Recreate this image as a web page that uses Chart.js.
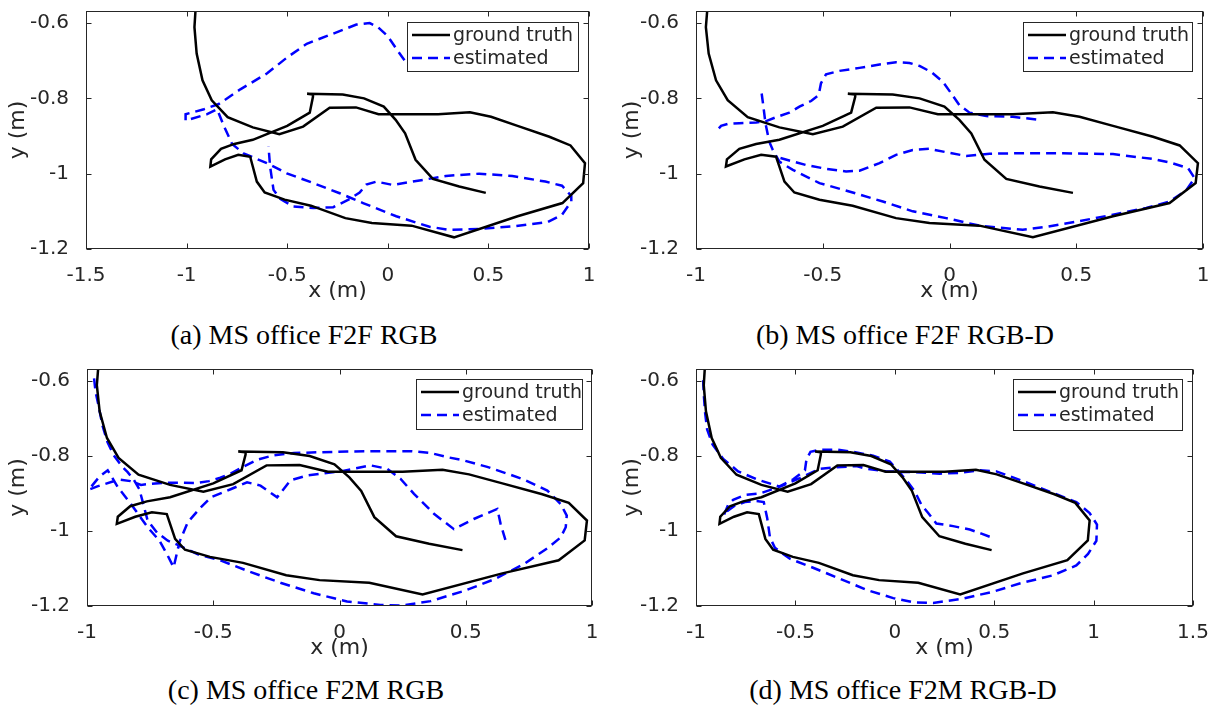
<!DOCTYPE html>
<html>
<head>
<meta charset="utf-8">
<script src="https://cdn.jsdelivr.net/npm/chart.js@4.4.0/dist/chart.umd.min.js"></script>
<style>
    body { margin: 0; background: #fff; width: 1218px; height: 708px; position: relative; overflow: hidden; }
    .panel { position: absolute; width: 609px; height: 310px; }
    .cap { position: absolute; font-family: "Liberation Serif", "Times New Roman", serif; font-size: 28px; line-height: 1;
           white-space: nowrap; transform: translateX(-50%); color: #000; }
</style>
</head>
<body>
<div class="panel" style="left:0;top:0"><canvas id="chartA"></canvas></div>
<div class="panel" style="left:609px;top:0"><canvas id="chartB"></canvas></div>
<div class="panel" style="left:0;top:358px"><canvas id="chartC"></canvas></div>
<div class="panel" style="left:609px;top:358px"><canvas id="chartD"></canvas></div>
<div class="cap" style="left:304px;top:321px">(a) MS office F2F RGB</div>
<div class="cap" style="left:905px;top:321px">(b) MS office F2F RGB-D</div>
<div class="cap" style="left:306px;top:676px">(c) MS office F2M RGB</div>
<div class="cap" style="left:903px;top:676px">(d) MS office F2M RGB-D</div>
<script>
// ground truth trajectory (same in all four plots)
const gtX = [-0.955, -0.961, -0.950, -0.921, -0.875, -0.796, -0.671, -0.539, -0.421, -0.289, -0.158, -0.046, 0.250, 0.408, 0.513, 0.645, 0.803, 0.908, 0.980, 0.971, 0.868, 0.645, 0.329, 0.118, -0.079, -0.211, -0.382, -0.513, -0.612, -0.651, -0.671, -0.684, -0.743, -0.809, -0.882, -0.878, -0.829, -0.763, -0.671, -0.500, -0.388, -0.372, -0.372, -0.401, -0.224, -0.118, -0.020, 0.039, 0.086, 0.138, 0.224, 0.355, 0.487];
const gtY = [-0.560, -0.611, -0.681, -0.752, -0.805, -0.850, -0.877, -0.895, -0.875, -0.825, -0.824, -0.842, -0.842, -0.837, -0.849, -0.873, -0.902, -0.925, -0.972, -1.025, -1.078, -1.113, -1.169, -1.138, -1.131, -1.118, -1.085, -1.069, -1.050, -1.021, -0.981, -0.955, -0.950, -0.962, -0.981, -0.962, -0.934, -0.921, -0.910, -0.873, -0.838, -0.796, -0.790, -0.788, -0.790, -0.800, -0.822, -0.857, -0.893, -0.963, -1.014, -1.034, -1.051];

// (a) F2F RGB
const estAX = [0.083, 0.042, 0.000, -0.049, -0.090, -0.156, -0.271, -0.403, -0.502, -0.601, -0.733, -0.840, -0.914, -1.005, -1.005, -0.898, -0.848, -0.815, -0.774, -0.717, -0.601, -0.502, -0.370, -0.239, -0.123, 0.042, 0.207, 0.305, 0.454, 0.619, 0.792, 0.866, 0.912, 0.912, 0.866, 0.783, 0.619, 0.454, 0.289, 0.124, 0.025, -0.057, -0.107, -0.140, -0.189, -0.271, -0.370, -0.469, -0.535, -0.568, -0.585, -0.593];
const estAY = [-0.699, -0.668, -0.635, -0.611, -0.600, -0.604, -0.628, -0.655, -0.692, -0.734, -0.776, -0.815, -0.829, -0.842, -0.859, -0.842, -0.829, -0.873, -0.921, -0.946, -0.972, -0.999, -1.025, -1.052, -1.078, -1.113, -1.141, -1.149, -1.147, -1.140, -1.129, -1.109, -1.074, -1.059, -1.032, -1.021, -1.006, -1.000, -1.006, -1.021, -1.030, -1.021, -1.029, -1.050, -1.067, -1.089, -1.091, -1.087, -1.067, -1.043, -0.981, -0.928];

// (b) F2F RGB-D  (null = break in the line)
const estBX = [0.342, 0.250, 0.145, 0.079, 0.039, 0.007, -0.026, -0.072, -0.118, -0.158, -0.211, -0.276, -0.355, -0.434, -0.487, -0.507, -0.516, -0.546, -0.592, -0.632, -0.684, -0.726, -0.763, -0.829, -0.875, -0.901, -0.921, null,
    -0.741, -0.734, -0.726, -0.711, -0.697, -0.671, -0.618, -0.513, -0.382, -0.263, -0.145, -0.013, 0.118, 0.289, 0.382, 0.513, 0.645, 0.776, 0.868, 0.934, 0.967, 0.941, 0.868, 0.803, 0.645, 0.447, 0.250, 0.158, 0.066, -0.013, -0.079, -0.145, -0.211, -0.276, -0.355, -0.408, -0.487, -0.566, -0.632, -0.678];
const estBY = [-0.856, -0.849, -0.847, -0.838, -0.818, -0.787, -0.756, -0.730, -0.714, -0.706, -0.704, -0.710, -0.719, -0.727, -0.736, -0.760, -0.791, -0.807, -0.822, -0.838, -0.850, -0.861, -0.864, -0.866, -0.868, -0.873, -0.888, null,
    -0.787, -0.822, -0.866, -0.915, -0.937, -0.968, -0.990, -1.025, -1.050, -1.074, -1.100, -1.118, -1.138, -1.149, -1.141, -1.126, -1.109, -1.091, -1.074, -1.044, -1.012, -0.985, -0.970, -0.961, -0.948, -0.946, -0.946, -0.947, -0.953, -0.943, -0.934, -0.937, -0.950, -0.972, -0.992, -0.994, -0.987, -0.977, -0.965, -0.956];

// (c) F2M RGB
const estCX = [-0.972, -0.966, -0.952, -0.939, -0.919, -0.894, -0.861, -0.839, -0.815, -0.793, -0.779, -0.760, -0.723, -0.680, -0.634, -0.561, -0.469, -0.366, -0.234, -0.102, 0.030, 0.162, 0.242, 0.361, 0.493, 0.612, 0.731, 0.823, 0.876, 0.896, 0.900, 0.876, 0.823, 0.731, 0.664, 0.585, 0.493, 0.427, 0.361, 0.281, 0.162, 0.030, -0.075, -0.181, -0.260, -0.326, -0.379, -0.431, -0.472, -0.517, -0.563, -0.622, -0.683, -0.746, -0.786, -0.828, -0.872, -0.898, -0.959, -0.993, -0.952, -0.918, -0.878, -0.826, -0.760, -0.713, -0.680, -0.657, -0.634, -0.601, -0.555, -0.509, -0.429, -0.366, -0.313, -0.247, -0.194, -0.128, 0.004, 0.123, 0.189, 0.242, 0.295, 0.374, 0.453, 0.532, 0.625, 0.638, 0.662];
const estCY = [-0.593, -0.629, -0.673, -0.718, -0.763, -0.798, -0.828, -0.843, -0.863, -0.888, -0.923, -0.972, -1.004, -1.026, -1.039, -1.062, -1.079, -1.106, -1.138, -1.166, -1.188, -1.197, -1.199, -1.187, -1.160, -1.129, -1.088, -1.046, -1.017, -0.990, -0.959, -0.928, -0.892, -0.863, -0.847, -0.829, -0.812, -0.803, -0.792, -0.787, -0.787, -0.788, -0.790, -0.792, -0.798, -0.810, -0.828, -0.847, -0.858, -0.867, -0.872, -0.871, -0.871, -0.874, -0.877, -0.867, -0.863, -0.868, -0.881, -0.890, -0.856, -0.838, -0.883, -0.928, -0.990, -1.026, -1.066, -1.097, -1.030, -0.977, -0.941, -0.910, -0.888, -0.870, -0.879, -0.910, -0.865, -0.852, -0.841, -0.825, -0.834, -0.861, -0.901, -0.954, -0.995, -0.968, -0.941, -0.981, -1.035];

// (d) F2M RGB-D
const estDX = [-0.964, -0.960, -0.954, -0.944, -0.917, -0.863, -0.788, -0.695, -0.578, -0.478, -0.377, -0.293, -0.193, -0.142, -0.042, 0.092, 0.226, 0.327, 0.427, 0.511, 0.645, 0.779, 0.913, 0.980, 1.017, 1.014, 0.972, 0.913, 0.796, 0.628, 0.494, 0.344, 0.193, 0.092, -0.008, -0.142, -0.277, -0.411, -0.528, -0.603, -0.628, -0.642, -0.659, -0.695, -0.754, -0.804, -0.846, -0.860, -0.838, -0.813, -0.754, -0.679, -0.595, -0.511, -0.452, -0.444, -0.424, -0.377, -0.293, -0.209, -0.109, -0.025, 0.008, 0.059, 0.101, 0.134, 0.168, 0.209, 0.293, 0.377, 0.436, 0.486];
const estDY = [-0.598, -0.642, -0.686, -0.729, -0.769, -0.808, -0.841, -0.862, -0.882, -0.859, -0.834, -0.830, -0.827, -0.834, -0.841, -0.843, -0.847, -0.845, -0.838, -0.841, -0.867, -0.895, -0.923, -0.952, -0.983, -1.026, -1.061, -1.092, -1.118, -1.140, -1.162, -1.180, -1.192, -1.190, -1.179, -1.157, -1.127, -1.098, -1.074, -1.045, -1.017, -0.965, -0.923, -0.920, -0.923, -0.932, -0.948, -0.958, -0.930, -0.917, -0.904, -0.900, -0.885, -0.862, -0.838, -0.808, -0.789, -0.783, -0.783, -0.789, -0.799, -0.815, -0.834, -0.865, -0.895, -0.930, -0.952, -0.980, -0.987, -0.996, -1.007, -1.017];

// tick labels
const yTicks = [-1.2, -1, -0.8, -0.6];
const xTicksA = [-1.5, -1, -0.5, 0, 0.5, 1];
const xTicksB = [-1, -0.5, 0, 0.5, 1];
const xTicksC = [-1, -0.5, 0, 0.5, 1];
const xTicksD = [-1, -0.5, 0, 0.5, 1, 1.5];

const AXIS = '#262626';

function toPoints(xs, ys) {
    return xs.map((x, i) => ({ x: x, y: ys[i] }));
}

// box, inward ticks on all sides and the legend, MATLAB style
const framePlugin = {
    id: 'frame',
    afterDraw(chart, args, opts) {
        const ctx = chart.ctx;
        const a = chart.chartArea;
        const L = Math.round(a.left) + 0.5, R = Math.round(a.right) - 0.5;
        const T = Math.round(a.top) + 0.5, B = Math.round(a.bottom) - 0.5;
        ctx.save();
        ctx.strokeStyle = AXIS;
        ctx.lineWidth = 1;
        ctx.strokeRect(L, T, R - L, B - T);
        ctx.beginPath();
        chart.scales.x.ticks.forEach(t => {
            const px = Math.round(chart.scales.x.getPixelForValue(t.value)) + 0.5;
            ctx.moveTo(px, B); ctx.lineTo(px, B - 5);
            ctx.moveTo(px, T); ctx.lineTo(px, T + 5);
        });
        chart.scales.y.ticks.forEach(t => {
            const py = Math.round(chart.scales.y.getPixelForValue(t.value)) + 0.5;
            ctx.moveTo(L, py); ctx.lineTo(L + 5, py);
            ctx.moveTo(R, py); ctx.lineTo(R - 5, py);
        });
        ctx.stroke();

        // legend
        const lg = opts.box;
        ctx.fillStyle = '#fff';
        ctx.fillRect(lg.x, lg.y, lg.w, lg.h);
        ctx.strokeStyle = AXIS;
        ctx.strokeRect(lg.x + 0.5, lg.y + 0.5, lg.w, lg.h);
        ctx.font = '19px "DejaVu Sans"';
        ctx.textBaseline = 'middle';
        chart.data.datasets.forEach((ds, i) => {
            const cy = lg.y + 13 + i * 23;
            ctx.strokeStyle = ds.borderColor;
            ctx.lineWidth = ds.borderWidth;
            ctx.setLineDash(ds.borderDash || []);
            ctx.beginPath();
            ctx.moveTo(lg.x + 5, cy); ctx.lineTo(lg.x + 43, cy);
            ctx.stroke();
            ctx.setLineDash([]);
            ctx.fillStyle = AXIS;
            ctx.fillText(ds.label, lg.x + 46, cy + 1);
        });
        ctx.restore();
    }
};

function createPlot(id, estX, estY, xTicks, xMin, xMax, geo) {
    const data = {
        datasets: [
            {
                label: 'ground truth',
                data: toPoints(gtX, gtY),
                borderColor: '#000000',
                borderWidth: 2.5
            },
            {
                label: 'estimated',
                data: toPoints(estX, estY),
                borderColor: '#0000ff',
                borderWidth: 2.5,
                borderDash: [10, 6]
            }]
    };
    const tickFont = { family: 'DejaVu Sans', size: 20, lineHeight: 1 };
    const titleFont = { family: 'DejaVu Sans', size: 22 };
    const label = v => String(Math.round(v * 10) / 10);
    const config = {
        type: 'line',
        data: data,
        options: {
            responsive: true,
            maintainAspectRatio: false,
            animation: false,
            spanGaps: false,
            elements: { point: { radius: 0 }, line: { tension: 0, fill: false } },
            layout: { padding: { left: 0, top: geo.top, right: geo.right, bottom: geo.bottom } },
            scales: {
                x: {
                    type: 'linear',
                    min: xMin,
                    max: xMax,
                    afterBuildTicks: s => { s.ticks = xTicks.map(v => ({ value: v })); },
                    afterFit: s => { s.height = 55; s.paddingLeft = 0; s.paddingRight = 0; },
                    grid: { display: false },
                    border: { display: false },
                    ticks: { font: tickFont, color: AXIS, padding: 9, maxRotation: 0, callback: label },
                    title: { display: true, text: 'x (m)', font: titleFont, color: AXIS, padding: { top: 0, bottom: 0 } }
                },
                y: {
                    type: 'linear',
                    min: -1.2,
                    max: -0.568,
                    afterBuildTicks: s => { s.ticks = yTicks.map(v => ({ value: v })); },
                    afterFit: s => { s.width = geo.yw; s.paddingTop = 0; s.paddingBottom = 0; },
                    grid: { display: false },
                    border: { display: false },
                    ticks: { font: tickFont, color: AXIS, padding: 9, callback: label },
                    title: { display: true, text: 'y (m)', font: titleFont, color: AXIS, padding: { top: geo.tp, bottom: 0 } }
                }
            },
            plugins: {
                legend: { display: false },
                tooltip: { enabled: false },
                frame: { box: geo.legend }
            }
        },
        plugins: [framePlugin]
    };
    return new Chart(document.getElementById(id), config);
}

createPlot('chartA', estAX, estAY, xTicksA, -1.5, 1, { yw: 86, top: 11, right: 20, bottom: 6, tp: 4.8, legend: { x: 407, y: 22, w: 171, h: 49 } });
createPlot('chartB', estBX, estBY, xTicksB, -1, 1, { yw: 87, top: 11, right: 15, bottom: 6, tp: 9.8, legend: { x: 414, y: 22, w: 169, h: 49 } });
createPlot('chartC', estCX, estCY, xTicksC, -1, 1, { yw: 87, top: 11, right: 17, bottom: 7, tp: 4.8, legend: { x: 416, y: 21, w: 166, h: 50 } });
createPlot('chartD', estDX, estDY, xTicksD, -1, 1.5, { yw: 87, top: 11, right: 25, bottom: 7, tp: 9.8, legend: { x: 404, y: 21, w: 169, h: 51 } });
</script>
</body>
</html>
